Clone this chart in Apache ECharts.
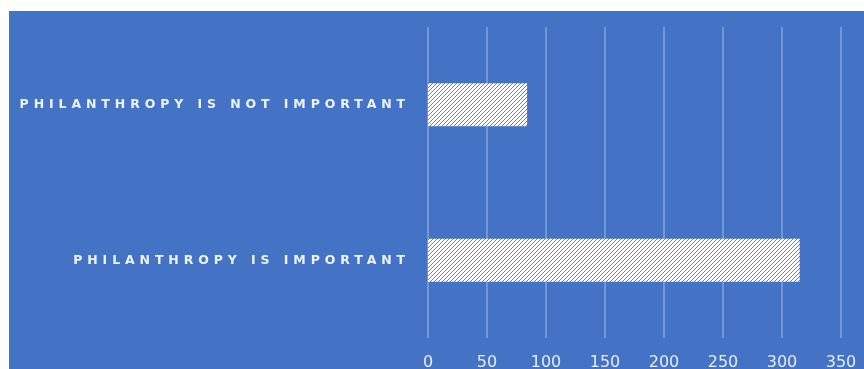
<!DOCTYPE html>
<html>
<head>
<meta charset="utf-8">
<script src="https://cdn.jsdelivr.net/npm/echarts@6/dist/echarts.min.js"></script>
<style>
  html, body { margin: 0; padding: 0; background: #ffffff; }
  #chart { position: absolute; left: 9px; top: 11px; width: 855px; height: 358px; background: #4472C4; }
</style>
</head>
<body>
<div id="chart"></div>
<script>
// Data (bottom category first)
const categories = ['PHILANTHROPY IS IMPORTANT', 'PHILANTHROPY IS NOT IMPORTANT'];
const values = [315, 84];
const xTicks = [0, 50, 100, 150, 200, 250, 300, 350];

// Letter spacing for the category labels only (canvas renderer)
const origFill = CanvasRenderingContext2D.prototype.fillText;
CanvasRenderingContext2D.prototype.fillText = function (t, x, y, m) {
  if (typeof t === 'string' && categories.indexOf(t) >= 0) {
    const f = this.font;
    this.letterSpacing = '4.9px';
    this.font = f;
    origFill.call(this, t, x, y, m);
    this.letterSpacing = '0px';
    this.font = f;
  } else {
    if (this.letterSpacing && this.letterSpacing !== '0px') {
      const f = this.font;
      this.letterSpacing = '0px';
      this.font = f;
    }
    origFill.call(this, t, x, y, m);
  }
};

// Hatch pattern tile
function makeHatch() {
  const c = document.createElement('canvas');
  c.width = 4; c.height = 4;
  const ctx = c.getContext('2d');
  ctx.fillStyle = '#ffffff';
  ctx.fillRect(0, 0, 4, 4);
  ctx.fillStyle = '#5a84cc';
  for (let i = 0; i < 4; i++) ctx.fillRect(i, 3 - i, 1, 1);
  return c;
}

const chart = echarts.init(document.getElementById('chart'), null, { renderer: 'canvas' });
chart.setOption({
  backgroundColor: '#4472C4',
  animation: false,
  grid: { left: 419, right: 23, top: 16, bottom: 31, containLabel: false, outerBoundsMode: 'none' },
  xAxis: {
    type: 'value',
    min: xTicks[0],
    max: xTicks[xTicks.length - 1],
    interval: 50,
    axisLine: { show: false },
    axisTick: { show: false },
    splitLine: { show: true, lineStyle: { color: 'rgba(255,255,255,0.35)', width: 1.5 } },
    axisLabel: { color: '#e6ecf6', fontSize: 16, fontFamily: 'DejaVu Sans', margin: 17 }
  },
  yAxis: {
    type: 'category',
    data: categories,
    axisLine: { show: false },
    axisTick: { show: false },
    splitLine: { show: false },
    axisLabel: { color: '#eef2f9', fontSize: 12.5, fontWeight: 'bold', fontFamily: 'DejaVu Sans', margin: 18 }
  },
  series: [{
    type: 'bar',
    data: values,
    barWidth: 43,
    itemStyle: { color: { image: makeHatch(), repeat: 'repeat' } }
  }]
});
</script>
</body>
</html>
